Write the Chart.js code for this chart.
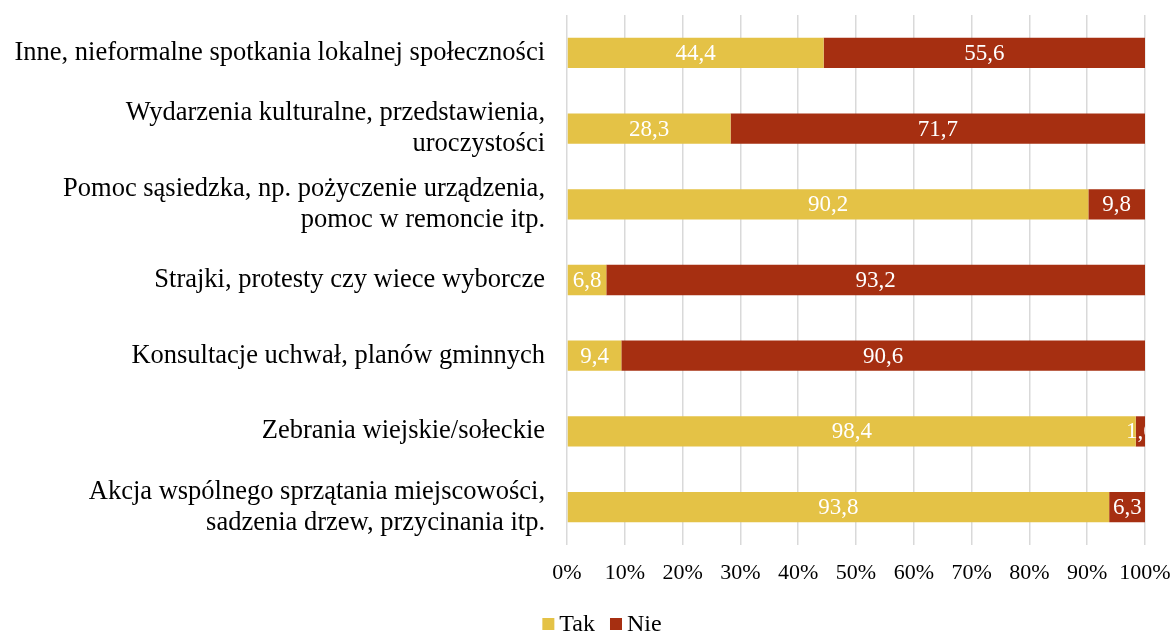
<!DOCTYPE html>
<html><head><meta charset="utf-8">
<script src="https://cdn.jsdelivr.net/npm/chart.js@4.4.1/dist/chart.umd.min.js"></script>
<style>html,body{margin:0;padding:0;background:#fff}#w{width:1176px;height:633px;position:relative}</style>
</head><body><div id="w"><canvas id="c"></canvas></div>
<script>
const categories = [
  ["Inne, nieformalne spotkania lokalnej społeczności"],
  ["Wydarzenia kulturalne, przedstawienia,", "uroczystości"],
  ["Pomoc sąsiedzka, np. pożyczenie urządzenia,", "pomoc w remoncie itp."],
  ["Strajki, protesty czy wiece wyborcze"],
  ["Konsultacje uchwał, planów gminnych"],
  ["Zebrania wiejskie/sołeckie"],
  ["Akcja wspólnego sprzątania miejscowości,", "sadzenia drzew, przycinania itp."]
];
const takValues = [44.4, 28.3, 90.2, 6.8, 9.4, 98.4, 93.8];
const nieValues = [55.6, 71.7, 9.8, 93.2, 90.6, 1.6, 6.3];
const seriesNames = ["Tak", "Nie"];
const xTicks = [0, 10, 20, 30, 40, 50, 60, 70, 80, 90, 100];

const FONT = "'Liberation Serif', 'Times New Roman', serif";

const labelPlugin = {
  id: 'segLabels',
  afterDatasetsDraw(chart) {
    const ctx = chart.ctx;
    const ca = chart.chartArea;
    chart.data.datasets.forEach((ds, di) => {
      const meta = chart.getDatasetMeta(di);
      meta.data.forEach((bar, i) => {
        const v = ds.data[i];
        const left = Math.min(bar.x, bar.base), right = Math.max(bar.x, bar.base);
        ctx.save();
        ctx.beginPath();
        ctx.rect(ca.left, ca.top, ca.right - ca.left, ca.bottom - ca.top);
        ctx.clip();
        ctx.fillStyle = '#ffffff';
        ctx.font = '23px ' + FONT;
        ctx.textAlign = 'center';
        ctx.textBaseline = 'middle';
        ctx.fillText(v.toFixed(1).replace('.', ','), (left + right) / 2, bar.y + 1);
        ctx.restore();
      });
    });
  }
};

const legendPlugin = {
  id: 'customLegend',
  afterDraw(chart, args, opts) {
    const ctx = chart.ctx;
    ctx.save();
    ctx.font = '24px ' + FONT;
    const box = 12, gap = 5, between = 15;
    const items = chart.data.datasets.map(ds => ({ text: ds.label, color: ds.backgroundColor, w: ctx.measureText(ds.label).width }));
    const total = items.reduce((s, it) => s + box + gap + it.w, 0) + between * (items.length - 1);
    let x = opts.centerX - total / 2;
    const baseY = opts.baseline;
    items.forEach(it => {
      ctx.fillStyle = it.color;
      ctx.fillRect(x, baseY - 13, box, box);
      x += box + gap;
      ctx.fillStyle = '#000';
      ctx.textAlign = 'left';
      ctx.textBaseline = 'alphabetic';
      ctx.fillText(it.text, x, baseY);
      x += it.w + between;
    });
    ctx.restore();
  }
};

new Chart(document.getElementById('c'), {
  type: 'bar',
  data: {
    labels: categories,
    datasets: [
      { label: seriesNames[0], data: takValues, backgroundColor: '#E4C246', barPercentage: 0.4, categoryPercentage: 1.0 },
      { label: seriesNames[1], data: nieValues, backgroundColor: '#A62F11', barPercentage: 0.4, categoryPercentage: 1.0 }
    ]
  },
  options: {
    indexAxis: 'y',
    responsive: true,
    maintainAspectRatio: false,
    animation: false,
    layout: { padding: { top: 15, right: 31, left: 0, bottom: 47 } },
    scales: {
      x: {
        stacked: true,
        min: 0, max: 100,
        afterBuildTicks(s) { s.ticks = xTicks.map(v => ({ value: v })); },
        afterFit(s) { s.height = 41; s.paddingLeft = 0; s.paddingRight = 0; },
        grid: { color: '#d9d9d9', lineWidth: 1.5, drawTicks: false },
        border: { display: false },
        ticks: { callback: v => v + '%', color: '#000', font: { family: FONT, size: 22 }, padding: 15, maxRotation: 0 }
      },
      y: {
        stacked: true,
        afterFit(s) { s.width = 567; s.paddingTop = 0; s.paddingBottom = 0; },
        grid: { display: false, drawTicks: false },
        border: { display: false },
        ticks: { color: '#000', font: { family: FONT, size: 26.5, lineHeight: 1.17 }, padding: 22, crossAlign: 'near' }
      }
    },
    plugins: {
      legend: { display: false },
      tooltip: { enabled: false },
      customLegend: { centerX: 602, baseline: 631 }
    }
  },
  plugins: [labelPlugin, legendPlugin]
});
</script></body></html>
